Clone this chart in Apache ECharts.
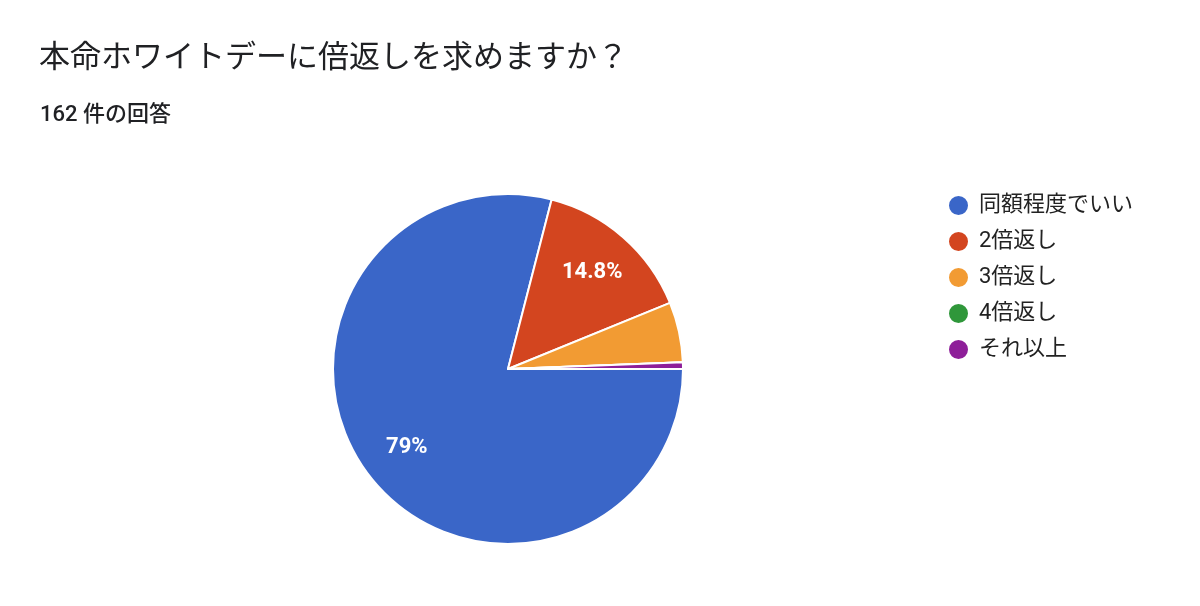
<!DOCTYPE html>
<html>
<head>
<meta charset="utf-8">
<script src="https://cdn.jsdelivr.net/npm/echarts@6/dist/echarts.min.js"></script>
<style>
html,body{margin:0;padding:0;background:#fff;}
#chart{width:1200px;height:606px;}
</style>
</head>
<body>
<div id="chart"></div>
<script>
const titleText = '本命ホワイトデーに倍返しを求めますか？';
const subtitleText = '162 件の回答';
const categories = ['同額程度でいい', '2倍返し', '3倍返し', '4倍返し', 'それ以上'];
const counts = [128, 24, 9, 0, 1];
const colors = ['#3a66c8', '#d3451f', '#f29b33', '#2f973a', '#8e1f99'];

const font = 'Roboto, "Noto Sans CJK JP", sans-serif';
const pieData = categories.map((c, i) => ({ name: c, value: counts[i], itemStyle: { color: colors[i] } }));

const chart = echarts.init(document.getElementById('chart'));
chart.setOption({
  backgroundColor: '#ffffff',
  animation: false,
  title: [
    { text: titleText, left: 34, top: 39, textStyle: { fontFamily: font, fontSize: 31, fontWeight: 'normal', color: '#202124' } },
    { text: subtitleText, left: 35, top: 99, textStyle: { fontFamily: font, fontSize: 22, fontWeight: 500, color: '#202124' } }
  ],
  legend: {
    orient: 'vertical',
    left: 942,
    top: 189,
    icon: 'circle',
    itemWidth: 21,
    itemHeight: 21,
    itemGap: 13,
    data: categories,
    textStyle: { fontFamily: font, fontSize: 22, lineHeight: 21, color: '#222', padding: [0, 0, 0, 5] }
  },
  series: [
    {
      type: 'pie',
      center: [508, 369],
      radius: [0, 175],
      startAngle: 0,
      clockwise: true,
      avoidLabelOverlap: false,
      stillShowZeroSum: false,
      minShowLabelAngle: 0,
      itemStyle: { borderColor: '#ffffff', borderWidth: 2 },
      label: { show: false },
      labelLine: { show: false },
      emphasis: { disabled: true },
      data: pieData
    },
    {
      type: 'pie',
      center: [508, 369],
      radius: [0, 250],
      startAngle: 0,
      clockwise: true,
      silent: true,
      z: 5,
      itemStyle: { color: 'rgba(0,0,0,0)', borderWidth: 0 },
      label: {
        show: true,
        position: 'inside',
        color: '#ffffff',
        fontFamily: font,
        fontSize: 22,
        fontWeight: 'bold',
        formatter: p => p.percent >= 10 ? (Math.round(p.percent * 10) / 10) + '%' : ''
      },
      labelLine: { show: false },
      emphasis: { disabled: true },
      data: categories.map((c, i) => ({ name: c, value: counts[i] }))
    }
  ]
});
</script>
</body>
</html>
